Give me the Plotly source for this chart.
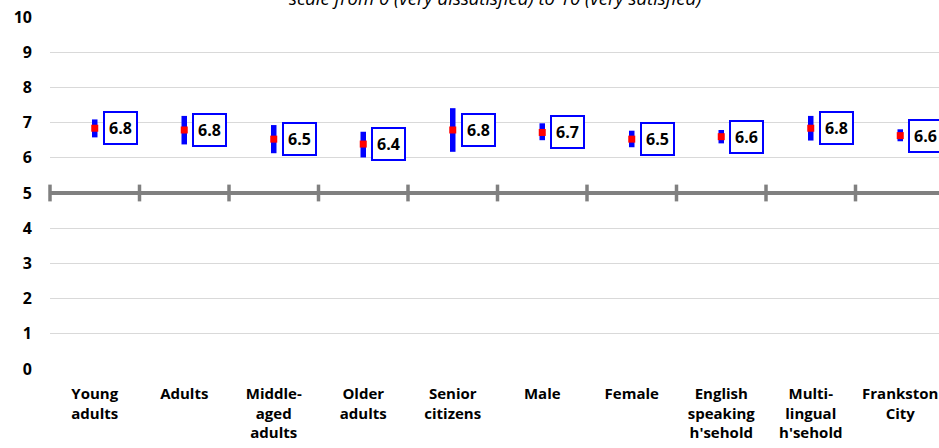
import plotly.graph_objects as go

categories = ["Young<br>adults", "Adults", "Middle-<br>aged<br>adults", "Older<br>adults",
              "Senior<br>citizens", "Male", "Female", "English<br>speaking<br>h'sehold",
              "Multi-<br>lingual<br>h'sehold", "Frankston<br>City"]
means = [6.84, 6.79, 6.53, 6.39, 6.79, 6.72, 6.53, 6.60, 6.84, 6.63]
upper = [7.09, 7.19, 6.93, 6.74, 7.41, 6.98, 6.77, 6.79, 7.19, 6.81]
lower = [6.58, 6.38, 6.13, 6.01, 6.17, 6.50, 6.30, 6.41, 6.49, 6.47]
labels = ["6.8", "6.8", "6.5", "6.4", "6.8", "6.7", "6.5", "6.6", "6.8", "6.6"]
y_ticks = list(range(0, 11))
midpoint = 5
subtitle = "scale from 0 (very dissatisfied) to 10 (very satisfied)"

FONT = "Open Sans"
xs = list(range(len(categories)))
bounds = [i - 0.5 for i in range(len(categories) + 1)]

fig = go.Figure()

# midpoint reference line at 5 with category tick marks
fig.add_trace(go.Scatter(x=bounds, y=[midpoint] * len(bounds), mode="lines+markers",
                         line=dict(color="#808080", width=4),
                         marker=dict(symbol="line-ns", size=12,
                                     line=dict(color="#808080", width=3.5)),
                         cliponaxis=False, hoverinfo="skip", showlegend=False))

fig.add_trace(go.Scatter(
    x=xs, y=means, mode="markers",
    marker=dict(symbol="square", size=7, color="#ff0000"),
    error_y=dict(type="data", symmetric=False,
                 array=[u - m for u, m in zip(upper, means)],
                 arrayminus=[m - l for m, l in zip(means, lower)],
                 color="#0000ff", thickness=5.5, width=0),
    showlegend=False))

for x, m, lab in zip(xs, means, labels):
    fig.add_annotation(x=x, y=m, xref="x", yref="y", text=lab, showarrow=False,
                       xanchor="left", yanchor="middle", xshift=8,
                       font=dict(family=FONT, size=16, color="black", weight="bold"),
                       bgcolor="white", bordercolor="#0000ff", borderwidth=2,
                       borderpad=4)

fig.add_annotation(x=0.5, xref="paper", y=1, yref="paper", text=subtitle,
                   showarrow=False, yanchor="middle", yshift=20,
                   font=dict(family=FONT, size=18.5, color="black", style="italic"))

# the original chart runs slightly past the right edge of the picture
fig.update_xaxes(range=[-0.5, len(categories) - 0.567], tickmode="array",
                 tickvals=xs, ticktext=categories, showgrid=False, zeroline=False,
                 showline=False, ticks="", ticklabelstandoff=14, automargin=False,
                 tickfont=dict(family=FONT, size=15, color="black", weight="bold"))
fig.update_yaxes(range=[0, 10], tickvals=y_ticks, showgrid=True,
                 gridcolor="#d9d9d9", gridwidth=1, zeroline=False, showline=False,
                 ticks="", ticklabelstandoff=17, automargin=False,
                 tickfont=dict(family=FONT, size=16, color="black", weight="bold"))

fig.update_layout(width=939, height=448, plot_bgcolor="white", paper_bgcolor="white",
                  margin=dict(l=50, r=0, t=17, b=79), showlegend=False,
                  font=dict(family=FONT))

# drop the default page margin so the figure sits at the window's corner
fig.write_html("out.html", config={"displayModeBar": False},
               post_script="document.body.style.margin='0';")
